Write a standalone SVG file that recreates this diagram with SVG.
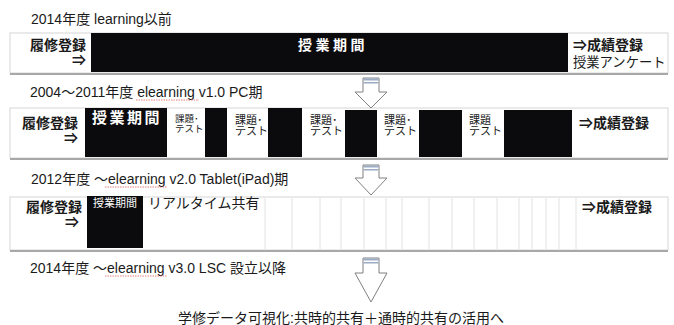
<svg xmlns="http://www.w3.org/2000/svg" width="674" height="325" viewBox="0 0 674 325">
<style>
text{font-family:"Liberation Sans","Noto Sans CJK JP",sans-serif;fill:#1a1a1a}
.t{font-size:14px}
.b{font-size:14px;font-weight:bold}
.w{fill:#ffffff;font-weight:bold}
.s{font-size:11px}
.box{fill:#ffffff;stroke:#d6d6d6;stroke-width:1}
.sh{stroke:#a8a8a8;stroke-width:2}
.blk{fill:#0b0b0d}
.vl{stroke:#e2e2e2;stroke-width:1}
.arr{fill:#ffffff;stroke:#808080;stroke-width:1}
.st{fill:#9aabc4}
.sq{fill:none;stroke:#e06060;stroke-width:0.8;stroke-dasharray:1.5 1}
</style>

<g id="title1"><text class="t" x="31" y="24">2014年度 learning以前</text></g>
<g id="row1">
<rect class="box" x="10" y="33" width="658" height="40"/>
<line class="sh" x1="10" y1="74" x2="668" y2="74"/>
<rect class="blk" x="91" y="33" width="477" height="39"/>
<text class="b" x="86" y="50" text-anchor="end">履修登録</text>
<text class="b" x="86" y="65" text-anchor="end">⇒</text>
<text class="b w" x="298" y="50" style="letter-spacing:3.5px">授業期間</text>
<text class="b" x="573" y="50">⇒成績登録</text>
<text x="573" y="67" style="font-size:13.3px">授業アンケート</text>
</g>

<g id="title2"><text class="t" x="30" y="97">2004〜2011年度 elearning v1.0 PC期</text>
<path class="sq" d="M136,100 H199"/></g>
<g id="row2">
<rect class="box" x="10" y="108" width="658" height="50"/>
<line class="sh" x1="10" y1="159" x2="668" y2="159"/>
<rect class="blk" x="85" y="108" width="82" height="49"/>
<rect class="blk" x="205" y="108" width="22" height="49"/>
<rect class="blk" x="268" y="108" width="34" height="49"/>
<rect class="blk" x="345" y="110" width="32" height="47"/>
<rect class="blk" x="419" y="110" width="43" height="47"/>
<rect class="blk" x="504" y="110" width="68" height="47"/>
<text class="b" x="78" y="128" text-anchor="end">履修登録</text>
<text class="b" x="78" y="143" text-anchor="end">⇒</text>
<text class="w" x="92" y="123" style="font-size:15px;letter-spacing:2.5px">授業期間</text>
<text style="font-size:9.5px" x="175" y="122">課題･</text>
<text style="font-size:9.5px" x="175" y="132">テスト</text>
<text class="s" x="235" y="124">課題･</text>
<text class="s" x="235" y="135">テスト</text>
<text class="s" x="310" y="124">課題･</text>
<text class="s" x="310" y="135">テスト</text>
<text class="s" x="384" y="124">課題･</text>
<text class="s" x="384" y="135">テスト</text>
<text class="s" x="469" y="124">課題</text>
<text class="s" x="469" y="135">テスト</text>
<text class="b" x="579" y="128">⇒成績登録</text>
</g>

<g id="title3"><text class="t" x="31" y="184">2012年度 〜elearning v2.0 Tablet(iPad)期</text>
<path class="sq" d="M105,187 H167"/></g>
<g id="row3">
<rect class="box" x="10" y="197" width="658" height="53"/>
<line class="sh" x1="10" y1="251" x2="668" y2="251"/>
<g>
<line class="vl" x1="265" y1="198" x2="265" y2="249"/>
<line class="vl" x1="292" y1="198" x2="292" y2="249"/>
<line class="vl" x1="320" y1="198" x2="320" y2="249"/>
<line class="vl" x1="341" y1="198" x2="341" y2="249"/>
<line class="vl" x1="364" y1="198" x2="364" y2="249"/>
<line class="vl" x1="386" y1="198" x2="386" y2="249"/>
<line class="vl" x1="402" y1="198" x2="402" y2="249"/>
<line class="vl" x1="429" y1="198" x2="429" y2="249"/>
<line class="vl" x1="452" y1="198" x2="452" y2="249"/>
<line class="vl" x1="474" y1="198" x2="474" y2="249"/>
<line class="vl" x1="497" y1="198" x2="497" y2="249"/>
<line class="vl" x1="519" y1="198" x2="519" y2="249"/>
<line class="vl" x1="532" y1="198" x2="532" y2="249"/>
<line class="vl" x1="546" y1="198" x2="546" y2="249"/>
<line class="vl" x1="559" y1="198" x2="559" y2="249"/>
<line class="vl" x1="576" y1="198" x2="576" y2="249"/>
</g>
<rect class="blk" x="87" y="196" width="56" height="52"/>
<text class="b" x="82" y="212" text-anchor="end">履修登録</text>
<text class="b" x="79" y="227" text-anchor="end">⇒</text>
<text class="w" x="93" y="207" style="font-size:11px;font-weight:normal">授業期間</text>
<text class="t" x="148" y="208">リアルタイム共有</text>
<text class="b" x="582" y="212">⇒成績登録</text>
</g>

<g id="title4"><text class="t" x="30" y="273">2014年度 〜elearning v3.0 LSC 設立以降</text>
<path class="sq" d="M105,276 H167"/></g>

<g id="connectors">
<path class="arr" d="M363,78 H379 V92 H387 L371,108 L355,92 H363 Z"/>
<rect class="st" x="363.5" y="78.5" width="15" height="2"/>
<rect class="st" x="363.5" y="82" width="15" height="1.5"/>
<path class="arr" d="M363,165 H379 V178 H387 L371,195 L355,178 H363 Z"/>
<rect class="st" x="363.5" y="165.5" width="15" height="2"/>
<rect class="st" x="363.5" y="169" width="15" height="1.5"/>
<path class="arr" d="M363,258 H379 V273 H387 L371,302 L355,273 H363 Z"/>
<rect class="st" x="363.5" y="258.5" width="15" height="2"/>
<rect class="st" x="363.5" y="262" width="15" height="1.5"/>
</g>

<g id="result"><text class="t" x="341" y="323" text-anchor="middle">学修データ可視化:共時的共有＋通時的共有の活用へ</text></g>
</svg>
